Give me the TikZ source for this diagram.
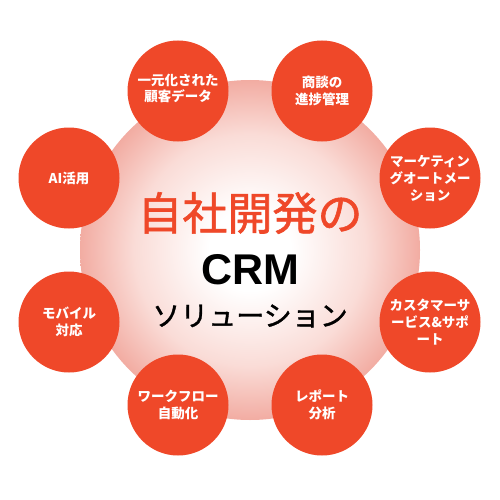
\documentclass[tikz,border=0pt]{standalone}
\usepackage{fontspec}
\setmainfont{Noto Sans CJK JP}
\newfontfamily\jpmid{Noto Sans CJK JP}[FakeBold=1.3]
\newfontfamily\crmfont{Liberation Sans}
\usetikzlibrary{positioning}
\definecolor{crmred}{RGB}{239,72,41}
\definecolor{crmpink}{RGB}{242,172,162}
\definecolor{crmblush}{RGB}{250,220,215}
\pgfdeclareradialshading{coreglow}{\pgfpoint{0bp}{0bp}}{color(0bp)=(white); color(6bp)=(white); color(17bp)=(crmblush); color(25bp)=(crmpink); color(50bp)=(crmpink)}
\tikzset{
  core/.style    = {circle, minimum size=340pt, inner sep=0pt, shading=coreglow},
  feature/.style = {circle, fill=crmred, minimum size=101pt, inner sep=0pt, text=white, align=center,
                    font=\bfseries\fontsize{13.5}{17}\selectfont},
}

\begin{document}
\begin{tikzpicture}[x=1pt,y=-1pt]
    \useasboundingbox (0,0) rectangle (500,500);
    \node [core] (core) at (250,250) {};

    \node [feature] (data) at (178,91) {\raisebox{6pt}{\shortstack{一元化された\\顧客データ}}};
    \node [feature] (deal) at (322,91) {商談の\\進捗管理};
    \node [feature] (mkt) at (430,178) {マーケティン\\グオートメー\\ション};
    \node [feature] (support) at (430,322) {カスタマーサ\\ービス\&サポ\\ート};
    \node [feature] (report) at (322,405) {レポート\\分析};
    \node [feature] (flow) at (178,405) {ワークフロー\\自動化};
    \node [feature] (mobile) at (69,322) {モバイル\\対応};
    \node [feature] (ai) at (69,178) {AI活用};

    \node [text=crmred, font=\jpmid\fontsize{45}{45}\selectfont] (title) at (250,213) {自社開発の};
    \node [font=\crmfont\bfseries\fontsize{43}{43}\selectfont] (crm) at (250,270) {CRM};
    \node [font=\jpmid\fontsize{28}{28}\selectfont] (solution) at (250,316) {ソリューション};
\end{tikzpicture}
\end{document}
